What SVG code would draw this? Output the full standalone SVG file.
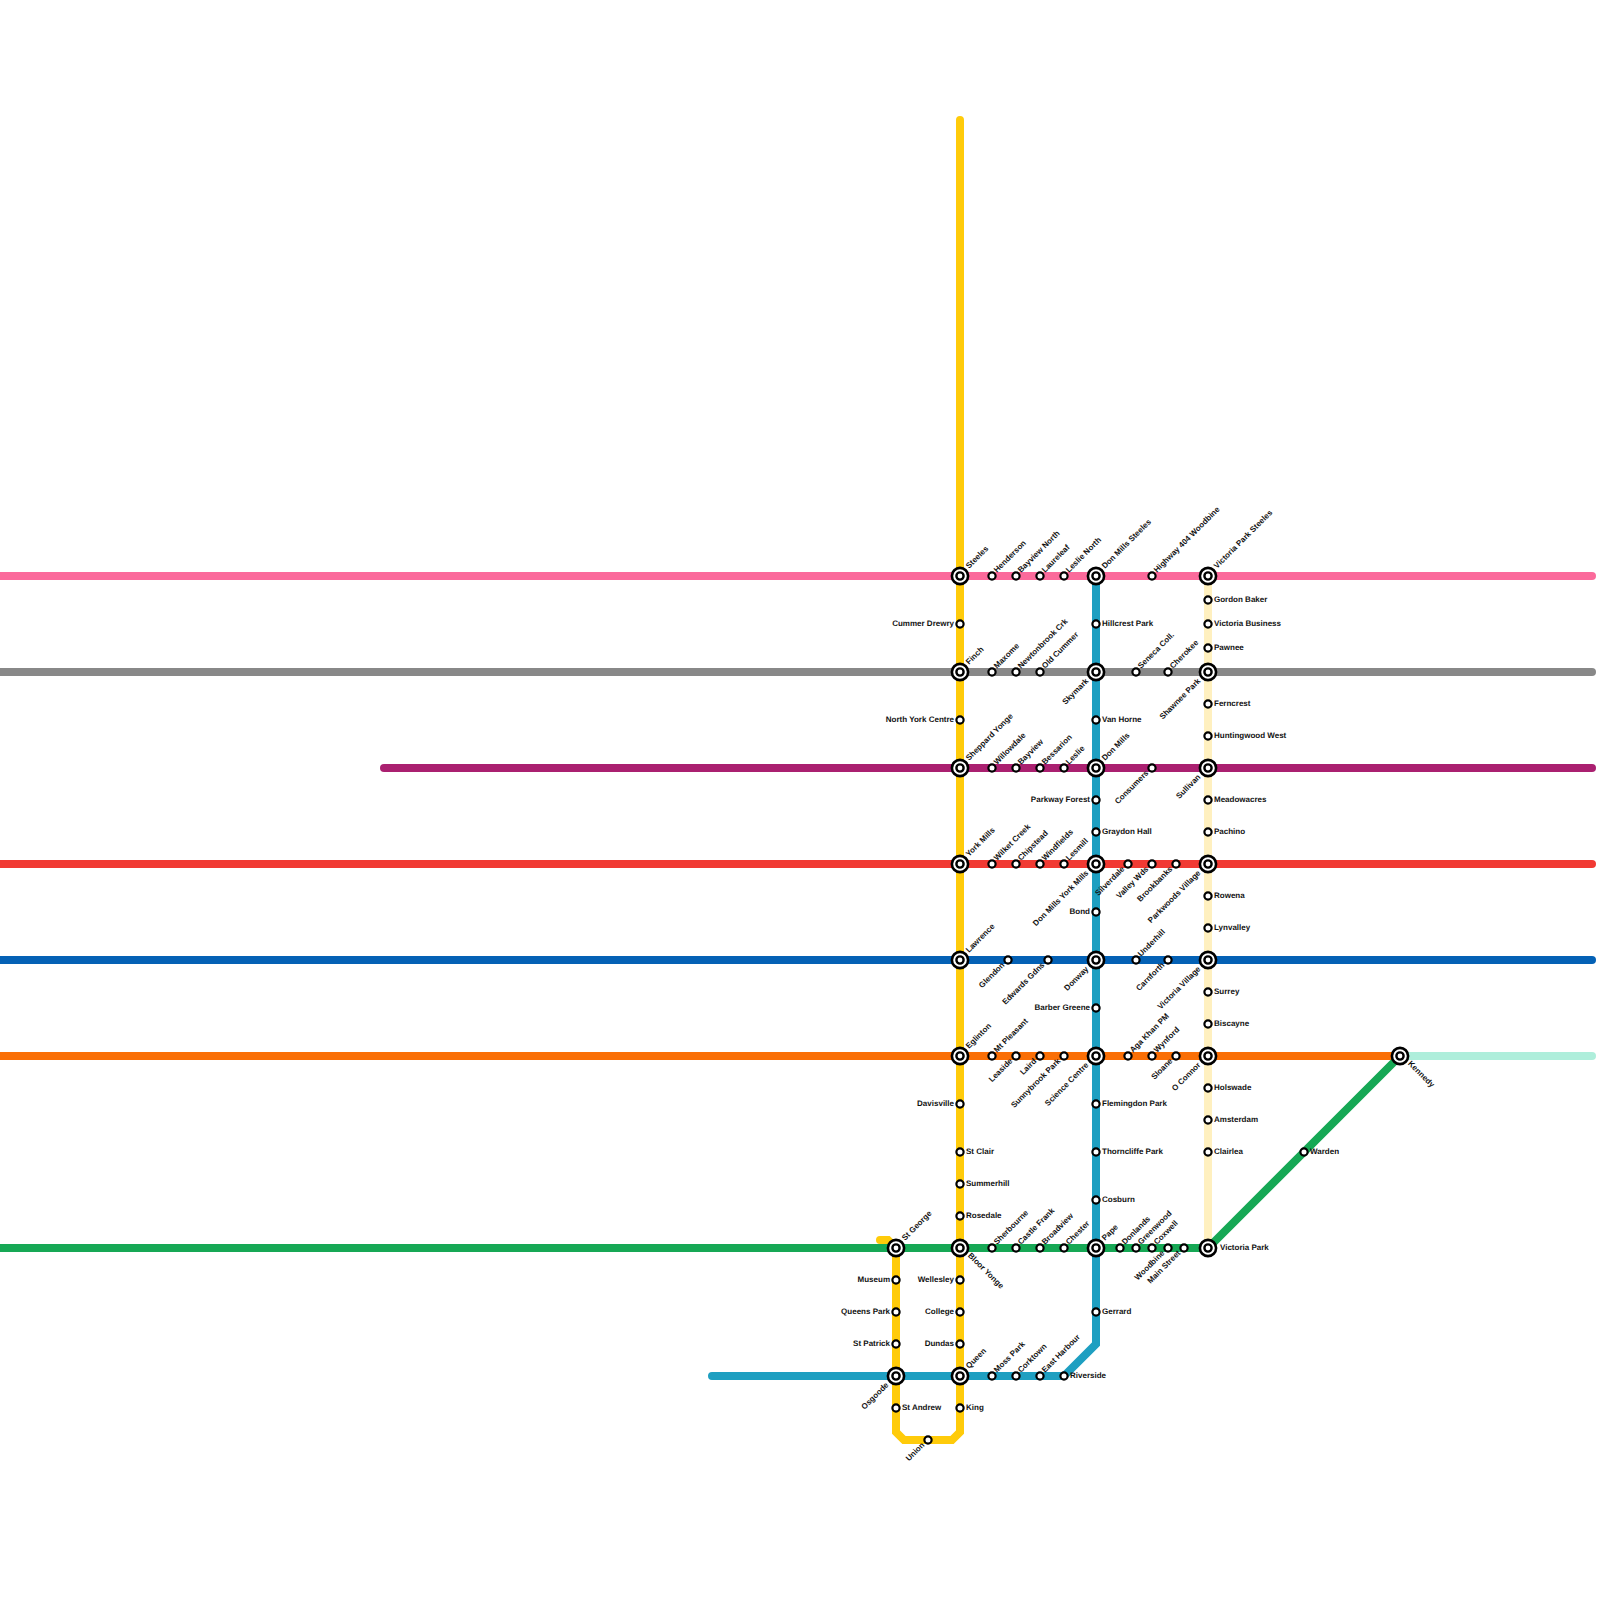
<svg xmlns="http://www.w3.org/2000/svg" width="1600" height="1600" viewBox="0 0 1600 1600">
<style>
.bg{fill:#fff}
.ln{fill:none;stroke-width:8;stroke-linecap:round;stroke-linejoin:miter}
.s{fill:#fff;stroke:#000;stroke-width:2.2;r:3.6px}
.io{fill:#fff;stroke:#000;stroke-width:2.6;r:8.1px}
.ii{fill:#fff;stroke:#000;stroke-width:2.4;r:3.6px}
text{font-family:"Liberation Sans",Arial,sans-serif;font-size:8px;font-weight:700;fill:#111;text-rendering:geometricPrecision}
.r{transform:translate(6px,2px)}
.l{transform:translate(-6px,2px);text-anchor:end}
.u{transform:translate(5px,-3px) rotate(-45deg)}
.d{transform:translate(-3px,5.5px) rotate(-45deg);text-anchor:end}
.U{transform:translate(9px,-7px) rotate(-45deg)}
.D{transform:translate(-7px,9.5px) rotate(-45deg);text-anchor:end}
.k{transform:translate(7.5px,8px) rotate(45deg)}
.v{transform:translate(12px,2px)}
</style>
<rect class="bg" width="1600" height="1600"/>
<g id="connectors">
<path class="ln" stroke="#fb6a9b" d="M0,576H1592"/>
<path class="ln" stroke="#888888" d="M0,672H1592"/>
<path class="ln" stroke="#aa2070" d="M384,768H1592"/>
<path class="ln" stroke="#f13a33" d="M0,864H1592"/>
<path class="ln" stroke="#0461b5" d="M0,960H1592"/>
<path class="ln" stroke="#fa6f06" d="M0,1056H1400"/>
<path class="ln" stroke="#aeeedb" d="M1400,1056H1592"/>
<path class="ln" stroke="#fff0bf" d="M1208,576V1248"/>
<path class="ln" stroke="#ffcb0a" d="M880,1240H888L896,1248V1432L904,1440H952L960,1432V120"/>
<path class="ln" stroke="#1e9fc1" d="M712,1376H1064L1096,1344V576"/>
<path class="ln" stroke="#16a855" d="M0,1248H1208L1400,1056"/>
</g>
<g id="nodes">
<g id="steeles" transform="translate(960 576)"><circle class="io"/><circle class="ii"/><text class="U">Steeles</text></g>
<g id="henderson" transform="translate(992 576)"><circle class="s"/><text class="u">Henderson</text></g>
<g id="bayview-north" transform="translate(1016 576)"><circle class="s"/><text class="u">Bayview North</text></g>
<g id="laureleaf" transform="translate(1040 576)"><circle class="s"/><text class="u">Laureleaf</text></g>
<g id="leslie-north" transform="translate(1064 576)"><circle class="s"/><text class="u">Leslie North</text></g>
<g id="don-mills-steeles" transform="translate(1096 576)"><circle class="io"/><circle class="ii"/><text class="U">Don Mills Steeles</text></g>
<g id="highway-404" transform="translate(1152 576)"><circle class="s"/><text class="u">Highway 404 Woodbine</text></g>
<g id="victoria-park-steeles" transform="translate(1208 576)"><circle class="io"/><circle class="ii"/><text class="U">Victoria Park Steeles</text></g>

<g id="finch" transform="translate(960 672)"><circle class="io"/><circle class="ii"/><text class="U">Finch</text></g>
<g id="maxome" transform="translate(992 672)"><circle class="s"/><text class="u">Maxome</text></g>
<g id="newtonbrook" transform="translate(1016 672)"><circle class="s"/><text class="u">Newtonbrook Crk</text></g>
<g id="old-cummer" transform="translate(1040 672)"><circle class="s"/><text class="u">Old Cummer</text></g>
<g id="skymark" transform="translate(1096 672)"><circle class="io"/><circle class="ii"/><text class="D">Skymark</text></g>
<g id="seneca" transform="translate(1136 672)"><circle class="s"/><text class="u">Seneca Coll.</text></g>
<g id="cherokee" transform="translate(1168 672)"><circle class="s"/><text class="u">Cherokee</text></g>
<g id="shawnee-park" transform="translate(1208 672)"><circle class="io"/><circle class="ii"/><text class="D">Shawnee Park</text></g>

<g id="sheppard-yonge" transform="translate(960 768)"><circle class="io"/><circle class="ii"/><text class="U">Sheppard Yonge</text></g>
<g id="willowdale" transform="translate(992 768)"><circle class="s"/><text class="u">Willowdale</text></g>
<g id="bayview" transform="translate(1016 768)"><circle class="s"/><text class="u">Bayview</text></g>
<g id="bessarion" transform="translate(1040 768)"><circle class="s"/><text class="u">Bessarion</text></g>
<g id="leslie" transform="translate(1064 768)"><circle class="s"/><text class="u">Leslie</text></g>
<g id="don-mills" transform="translate(1096 768)"><circle class="io"/><circle class="ii"/><text class="U">Don Mills</text></g>
<g id="consumers" transform="translate(1152 768)"><circle class="s"/><text class="d">Consumers</text></g>
<g id="sullivan" transform="translate(1208 768)"><circle class="io"/><circle class="ii"/><text class="D">Sullivan</text></g>

<g id="york-mills" transform="translate(960 864)"><circle class="io"/><circle class="ii"/><text class="U">York Mills</text></g>
<g id="wilket-creek" transform="translate(992 864)"><circle class="s"/><text class="u">Wilket Creek</text></g>
<g id="chipstead" transform="translate(1016 864)"><circle class="s"/><text class="u">Chipstead</text></g>
<g id="windfields" transform="translate(1040 864)"><circle class="s"/><text class="u">Windfields</text></g>
<g id="lesmill" transform="translate(1064 864)"><circle class="s"/><text class="u">Lesmill</text></g>
<g id="don-mills-york-mills" transform="translate(1096 864)"><circle class="io"/><circle class="ii"/><text class="D">Don Mills York Mills</text></g>
<g id="silverdale" transform="translate(1128 864)"><circle class="s"/><text class="d">Silverdale</text></g>
<g id="valley-wds" transform="translate(1152 864)"><circle class="s"/><text class="d">Valley Wds</text></g>
<g id="brookbanks" transform="translate(1176 864)"><circle class="s"/><text class="d">Brookbanks</text></g>
<g id="parkwoods-village" transform="translate(1208 864)"><circle class="io"/><circle class="ii"/><text class="D">Parkwoods Village</text></g>

<g id="lawrence" transform="translate(960 960)"><circle class="io"/><circle class="ii"/><text class="U">Lawrence</text></g>
<g id="glendon" transform="translate(1008 960)"><circle class="s"/><text class="d">Glendon</text></g>
<g id="edwards-gdns" transform="translate(1048 960)"><circle class="s"/><text class="d">Edwards Gdns</text></g>
<g id="donway" transform="translate(1096 960)"><circle class="io"/><circle class="ii"/><text class="D">Donway</text></g>
<g id="underhill" transform="translate(1136 960)"><circle class="s"/><text class="u">Underhill</text></g>
<g id="carnforth" transform="translate(1168 960)"><circle class="s"/><text class="d">Carnforth</text></g>
<g id="victoria-village" transform="translate(1208 960)"><circle class="io"/><circle class="ii"/><text class="D">Victoria Village</text></g>

<g id="eglinton" transform="translate(960 1056)"><circle class="io"/><circle class="ii"/><text class="U">Eglinton</text></g>
<g id="mt-pleasant" transform="translate(992 1056)"><circle class="s"/><text class="u">Mt Pleasant</text></g>
<g id="leaside" transform="translate(1016 1056)"><circle class="s"/><text class="d">Leaside</text></g>
<g id="laird" transform="translate(1040 1056)"><circle class="s"/><text class="d">Laird</text></g>
<g id="sunnybrook-park" transform="translate(1064 1056)"><circle class="s"/><text class="d">Sunnybrook Park</text></g>
<g id="science-centre" transform="translate(1096 1056)"><circle class="io"/><circle class="ii"/><text class="D">Science Centre</text></g>
<g id="aga-khan" transform="translate(1128 1056)"><circle class="s"/><text class="u">Aga Khan PM</text></g>
<g id="wynford" transform="translate(1152 1056)"><circle class="s"/><text class="u">Wynford</text></g>
<g id="sloane" transform="translate(1176 1056)"><circle class="s"/><text class="d">Sloane</text></g>
<g id="o-connor" transform="translate(1208 1056)"><circle class="io"/><circle class="ii"/><text class="D">O Connor</text></g>
<g id="kennedy" transform="translate(1400 1056)"><circle class="io"/><circle class="ii"/><text class="k">Kennedy</text></g>

<g id="st-george" transform="translate(896 1248)"><circle class="io"/><circle class="ii"/><text class="U">St George</text></g>
<g id="bloor-yonge" transform="translate(960 1248)"><circle class="io"/><circle class="ii"/><text class="k">Bloor Yonge</text></g>
<g id="sherbourne" transform="translate(992 1248)"><circle class="s"/><text class="u">Sherbourne</text></g>
<g id="castle-frank" transform="translate(1016 1248)"><circle class="s"/><text class="u">Castle Frank</text></g>
<g id="broadview" transform="translate(1040 1248)"><circle class="s"/><text class="u">Broadview</text></g>
<g id="chester" transform="translate(1064 1248)"><circle class="s"/><text class="u">Chester</text></g>
<g id="pape" transform="translate(1096 1248)"><circle class="io"/><circle class="ii"/><text class="U">Pape</text></g>
<g id="donlands" transform="translate(1120 1248)"><circle class="s"/><text class="u">Donlands</text></g>
<g id="greenwood" transform="translate(1136 1248)"><circle class="s"/><text class="u">Greenwood</text></g>
<g id="coxwell" transform="translate(1152 1248)"><circle class="s"/><text class="u">Coxwell</text></g>
<g id="woodbine" transform="translate(1168 1248)"><circle class="s"/><text class="d">Woodbine</text></g>
<g id="main-street" transform="translate(1184 1248)"><circle class="s"/><text class="d">Main Street</text></g>
<g id="victoria-park" transform="translate(1208 1248)"><circle class="io"/><circle class="ii"/><text class="v">Victoria Park</text></g>
<g id="warden" transform="translate(1304 1152)"><circle class="s"/><text class="r">Warden</text></g>

<g id="osgoode" transform="translate(896 1376)"><circle class="io"/><circle class="ii"/><text class="D">Osgoode</text></g>
<g id="queen" transform="translate(960 1376)"><circle class="io"/><circle class="ii"/><text class="U">Queen</text></g>
<g id="moss-park" transform="translate(992 1376)"><circle class="s"/><text class="u">Moss Park</text></g>
<g id="corktown" transform="translate(1016 1376)"><circle class="s"/><text class="u">Corktown</text></g>
<g id="east-harbour" transform="translate(1040 1376)"><circle class="s"/><text class="u">East Harbour</text></g>
<g id="riverside" transform="translate(1064 1376)"><circle class="s"/><text class="r">Riverside</text></g>

<g id="cummer-drewry" transform="translate(960 624)"><circle class="s"/><text class="l">Cummer Drewry</text></g>
<g id="north-york-centre" transform="translate(960 720)"><circle class="s"/><text class="l">North York Centre</text></g>
<g id="davisville" transform="translate(960 1104)"><circle class="s"/><text class="l">Davisville</text></g>
<g id="st-clair" transform="translate(960 1152)"><circle class="s"/><text class="r">St Clair</text></g>
<g id="summerhill" transform="translate(960 1184)"><circle class="s"/><text class="r">Summerhill</text></g>
<g id="rosedale" transform="translate(960 1216)"><circle class="s"/><text class="r">Rosedale</text></g>
<g id="wellesley" transform="translate(960 1280)"><circle class="s"/><text class="l">Wellesley</text></g>
<g id="college" transform="translate(960 1312)"><circle class="s"/><text class="l">College</text></g>
<g id="dundas" transform="translate(960 1344)"><circle class="s"/><text class="l">Dundas</text></g>
<g id="king" transform="translate(960 1408)"><circle class="s"/><text class="r">King</text></g>
<g id="union" transform="translate(928 1440)"><circle class="s"/><text class="d">Union</text></g>
<g id="st-andrew" transform="translate(896 1408)"><circle class="s"/><text class="r">St Andrew</text></g>
<g id="st-patrick" transform="translate(896 1344)"><circle class="s"/><text class="l">St Patrick</text></g>
<g id="queens-park" transform="translate(896 1312)"><circle class="s"/><text class="l">Queens Park</text></g>
<g id="museum" transform="translate(896 1280)"><circle class="s"/><text class="l">Museum</text></g>

<g id="hillcrest-park" transform="translate(1096 624)"><circle class="s"/><text class="r">Hillcrest Park</text></g>
<g id="van-horne" transform="translate(1096 720)"><circle class="s"/><text class="r">Van Horne</text></g>
<g id="parkway-forest" transform="translate(1096 800)"><circle class="s"/><text class="l">Parkway Forest</text></g>
<g id="graydon-hall" transform="translate(1096 832)"><circle class="s"/><text class="r">Graydon Hall</text></g>
<g id="bond" transform="translate(1096 912)"><circle class="s"/><text class="l">Bond</text></g>
<g id="barber-greene" transform="translate(1096 1008)"><circle class="s"/><text class="l">Barber Greene</text></g>
<g id="flemingdon-park" transform="translate(1096 1104)"><circle class="s"/><text class="r">Flemingdon Park</text></g>
<g id="thorncliffe-park" transform="translate(1096 1152)"><circle class="s"/><text class="r">Thorncliffe Park</text></g>
<g id="cosburn" transform="translate(1096 1200)"><circle class="s"/><text class="r">Cosburn</text></g>
<g id="gerrard" transform="translate(1096 1312)"><circle class="s"/><text class="r">Gerrard</text></g>

<g id="gordon-baker" transform="translate(1208 600)"><circle class="s"/><text class="r">Gordon Baker</text></g>
<g id="victoria-business" transform="translate(1208 624)"><circle class="s"/><text class="r">Victoria Business</text></g>
<g id="pawnee" transform="translate(1208 648)"><circle class="s"/><text class="r">Pawnee</text></g>
<g id="ferncrest" transform="translate(1208 704)"><circle class="s"/><text class="r">Ferncrest</text></g>
<g id="huntingwood-west" transform="translate(1208 736)"><circle class="s"/><text class="r">Huntingwood West</text></g>
<g id="meadowacres" transform="translate(1208 800)"><circle class="s"/><text class="r">Meadowacres</text></g>
<g id="pachino" transform="translate(1208 832)"><circle class="s"/><text class="r">Pachino</text></g>
<g id="rowena" transform="translate(1208 896)"><circle class="s"/><text class="r">Rowena</text></g>
<g id="lynvalley" transform="translate(1208 928)"><circle class="s"/><text class="r">Lynvalley</text></g>
<g id="surrey" transform="translate(1208 992)"><circle class="s"/><text class="r">Surrey</text></g>
<g id="biscayne" transform="translate(1208 1024)"><circle class="s"/><text class="r">Biscayne</text></g>
<g id="holswade" transform="translate(1208 1088)"><circle class="s"/><text class="r">Holswade</text></g>
<g id="amsterdam" transform="translate(1208 1120)"><circle class="s"/><text class="r">Amsterdam</text></g>
<g id="clairlea" transform="translate(1208 1152)"><circle class="s"/><text class="r">Clairlea</text></g>
</g>
</svg>
